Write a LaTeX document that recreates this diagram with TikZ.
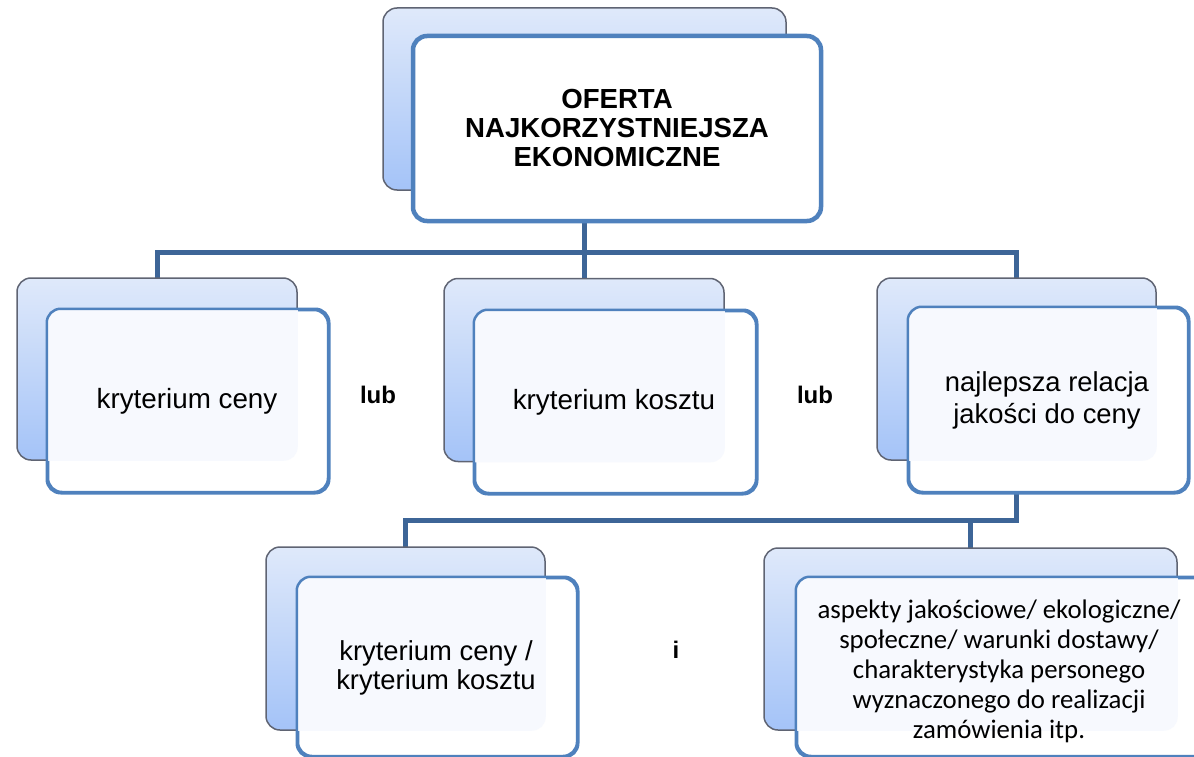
\documentclass[tikz,border=0pt]{standalone}
\usepackage{fontspec}
\setmainfont{Liberation Sans}
\newfontfamily\calibrifont{Carlito}
\definecolor{frontblue}{RGB}{79,129,189}
\definecolor{connblue}{RGB}{61,101,151}
\definecolor{backtop}{RGB}{223,233,250}
\definecolor{backbot}{RGB}{164,195,248}
\definecolor{backedge}{RGB}{95,100,115}
\definecolor{veil}{RGB}{247,249,254}
\tikzset{
  backbox/.style={rectangle, rounded corners=14pt, draw=backedge, line width=1.5pt,
    top color=backtop, bottom color=backbot, inner sep=0pt},
  frontbox/.style={rectangle, rounded corners=14pt, draw=frontblue, line width=2.5pt,
    fill=white, inner sep=0pt},
  frontline/.style={draw=frontblue, line width=2.5pt, rounded corners=14pt},
  boxtext/.style={align=center, inner sep=0pt, font=\fontsize{27.8}{31}\selectfont},
  connector/.style={draw=connblue, line width=5pt},
  joinlabel/.style={inner sep=0pt, font=\bfseries\fontsize{24}{28}\selectfont}
}
\begin{document}
\begin{tikzpicture}[x=1pt,y=-1pt]
\useasboundingbox (0,0) rectangle (1194,757);

\coordinate (j1) at (584.5,252);
\coordinate (j2) at (1016.5,520);

% connectors (drawn first, boxes cover their ends)
\draw[connector] (584.5,190) -- (j1);
\draw[connector] (157,252) -- (1016.5,252);
\draw[connector] (157,250) -- (157,279);
\draw[connector] (584,252) -- (584,279);
\draw[connector] (1016.5,250) -- (1016.5,279);
\draw[connector] (1016.5,460) -- (j2);
\draw[connector] (405.5,520) -- (1018.5,520);
\draw[connector] (405.5,518) -- (405.5,548);
\draw[connector] (970.5,520) -- (970.5,548);

% ---------- top ----------
\node[backbox, minimum width=403pt, minimum height=182pt] (topB) at (584.5,99) {};
\node[frontbox, line width=4.5pt, minimum width=408pt, minimum height=185pt] (top) at (617,128.5) {};
\node[boxtext, font=\bfseries\fontsize{27.6}{29}\selectfont] (topT) at (617,128) {OFERTA\\NAJKORZYSTNIEJSZA\\EKONOMICZNE};

% ---------- row 2 left ----------
\node[backbox, minimum width=280pt, minimum height=182pt] (aB) at (157,369) {};
\node[frontbox, minimum width=280pt, minimum height=182pt] (a) at (188,401) {};
\begin{scope}
  \clip[rounded corners=14pt] (a.south west) rectangle (a.north east);
  \fill[veil, rounded corners=14pt] (aB.south west) rectangle (aB.north east);
\end{scope}
\draw[frontline] (a.south west) rectangle (a.north east);
\node[boxtext] (aT) at (187,401) {kryterium ceny};

\node[joinlabel] (lub1) at (378,395) {lub};

% ---------- row 2 middle ----------
\node[backbox, minimum width=280pt, minimum height=183pt] (bB) at (584,370) {};
\node[frontbox, minimum width=281pt, minimum height=182pt] (b) at (615.5,402) {};
\begin{scope}
  \clip[rounded corners=14pt] (b.south west) rectangle (b.north east);
  \fill[veil, rounded corners=14pt] (bB.south west) rectangle (bB.north east);
\end{scope}
\draw[frontline] (b.south west) rectangle (b.north east);
\node[boxtext] (bT) at (614,402) {kryterium kosztu};

\node[joinlabel] (lub2) at (815,395) {lub};

% ---------- row 2 right ----------
\node[backbox, minimum width=279pt, minimum height=182pt] (cB) at (1016.5,369) {};
\node[frontbox, minimum width=279pt, minimum height=184pt] (c) at (1048.5,400) {};
\begin{scope}
  \clip[rounded corners=14pt] (c.south west) rectangle (c.north east);
  \fill[veil, rounded corners=14pt] (cB.south west) rectangle (cB.north east);
\end{scope}
\draw[frontline] (c.south west) rectangle (c.north east);
\node[boxtext, font=\fontsize{27.4}{32}\selectfont] (cT) at (1047,400) {najlepsza relacja\\jakości do ceny};

% ---------- row 3 left ----------
\node[backbox, minimum width=279pt, minimum height=183pt] (dB) at (405.5,638.5) {};
\node[frontbox, minimum width=279pt, minimum height=178pt] (d) at (437.5,667) {};
\begin{scope}
  \clip[rounded corners=14pt] (d.south west) rectangle (d.north east);
  \fill[veil, rounded corners=14pt] (dB.south west) rectangle (dB.north east);
\end{scope}
\draw[frontline] (d.south west) rectangle (d.north east);
\node[boxtext, font=\fontsize{27.4}{29}\selectfont] (dT) at (436,668) {kryterium ceny /\\kryterium kosztu};

\node[joinlabel] (iand) at (676,650) {i};

% ---------- row 3 right ----------
\node[backbox, minimum width=413pt, minimum height=182pt] (eB) at (970.5,639) {};
\node[frontbox, minimum width=413pt, minimum height=178pt] (e) at (1003.5,667) {};
\begin{scope}
  \clip[rounded corners=14pt] (e.south west) rectangle (e.north east);
  \fill[veil, rounded corners=14pt] (eB.south west) rectangle (eB.north east);
\end{scope}
\draw[frontline] (e.south west) rectangle (e.north east);
\node[boxtext, font=\calibrifont\fontsize{26.8}{30}\selectfont] (eT) at (999,671)
  {aspekty jakościowe/ ekologiczne/\\społeczne/ warunki dostawy/\\charakterystyka personego\\wyznaczonego do realizacji\\zamówienia itp.};
\end{tikzpicture}
\end{document}
